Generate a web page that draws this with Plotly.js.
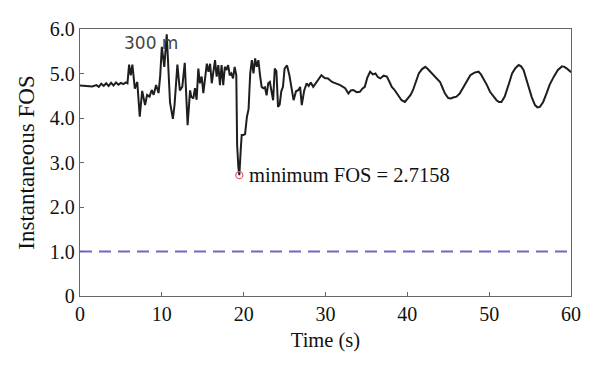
<!DOCTYPE html>
<html>
<head>
<meta charset="utf-8">
<script src="https://cdn.plot.ly/plotly-3.0.1.min.js"></script>
<style>html,body{margin:0;padding:0;background:#fff}#chart{width:600px;height:374px}</style>
</head>
<body>
<div id="chart"></div>
<script>
// Time (s)
const time = [
  0,0.5,1,1.5,2,2.3,2.6,2.9,3.2,3.5,3.8,4.1,4.4,4.7,5.0,5.3,5.6,5.8,
  6.0,6.2,6.4,6.7,7.0,7.3,7.6,7.95,8.2,8.5,8.76,9.0,9.3,9.6,9.8,10.0,10.3,10.6,
  11.0,11.35,11.55,11.9,12.2,12.5,12.8,13.15,13.45,13.6,13.85,14.05,14.25,
  14.46,14.65,14.87,15.07,15.3,15.5,15.7,15.9,16.1,16.3,16.5,16.7,16.9,17.1,17.3,17.5,17.7,17.9,18.1,18.3,18.5,18.7,18.9,19.1,
  19.2,19.35,19.47,19.64,19.76,19.97,20.17,20.4,20.6,20.8,21.0,21.2,21.4,21.6,21.8,22.0,
  22.2,22.4,22.6,22.8,23.0,23.2,23.4,23.6,23.8,24.0,24.2,24.4,24.6,24.8,25.0,25.3,25.6,25.85,
  26.1,26.4,26.7,26.9,27.1,27.4,27.7,27.95,28.2,28.5,28.8,29.1,29.5,29.9,30.3,30.8,31.3,31.8,
  32.4,32.8,33.1,33.4,33.8,34.2,34.5,34.8,35.1,35.45,35.8,36.1,36.4,36.7,37.1,37.5,37.8,
  38.1,38.4,38.7,39.0,39.3,39.7,40.1,40.4,40.7,41.0,41.4,41.8,42.2,42.5,42.8,43.2,43.6,
  44.0,44.3,44.6,45.0,45.3,45.6,46.0,46.4,46.9,47.3,47.7,48.2,48.7,49.0,49.3,49.7,
  50.1,50.5,50.9,51.2,51.5,51.9,52.2,52.5,52.8,53.2,53.6,53.9,54.2,54.5,54.8,
  55.2,55.6,55.9,56.2,56.6,57.0,57.4,57.9,58.4,58.9,59.2,59.5,59.8,60
];
// Instantaneous FOS
const fos = [
  4.73,4.72,4.71,4.71,4.74,4.70,4.77,4.72,4.78,4.72,4.79,4.73,4.80,4.75,4.79,4.76,4.80,4.78,
  5.20,4.96,5.20,4.66,4.81,4.03,4.61,4.29,4.52,4.48,4.63,4.52,4.74,4.56,4.95,5.60,5.15,5.88,
  4.35,3.98,4.29,5.20,4.62,4.70,5.24,3.84,4.62,4.48,4.44,4.67,4.41,
  5.11,4.78,4.93,4.56,4.89,5.22,5.04,5.22,4.78,5.04,5.30,4.93,5.19,4.74,5.19,4.74,5.15,5.08,5.19,4.96,5.00,4.89,5.15,4.96,
  3.40,2.90,2.7158,3.28,3.62,3.62,3.64,4.03,4.20,5.00,5.30,5.00,5.34,5.15,5.30,4.96,
  4.70,4.67,4.69,4.51,4.78,4.81,4.60,4.40,5.11,5.05,4.25,4.30,4.60,4.70,5.11,5.18,4.95,4.70,
  4.40,4.60,4.63,4.70,4.29,4.62,4.78,4.72,4.80,4.70,4.78,4.85,4.96,4.90,4.89,4.81,4.78,4.74,
  4.67,4.55,4.62,4.63,4.58,4.59,4.66,4.70,4.90,5.04,4.98,5.00,4.92,4.89,4.95,4.93,4.82,
  4.70,4.64,4.56,4.48,4.40,4.36,4.44,4.52,4.63,4.80,5.00,5.10,5.15,5.10,5.04,4.97,4.89,
  4.81,4.68,4.55,4.45,4.44,4.46,4.48,4.55,4.70,4.85,4.96,5.02,5.04,4.98,4.89,4.75,
  4.59,4.48,4.40,4.36,4.36,4.48,4.63,4.82,5.00,5.12,5.19,5.16,5.08,4.90,4.70,
  4.47,4.29,4.24,4.25,4.36,4.55,4.75,4.93,5.08,5.16,5.15,5.11,5.06,5.03
];
const minTime = 19.47;
const minFos = 2.7158;
const threshold = 1.0;
const xTicks = [0,10,20,30,40,50,60];
const yTicks = [0,1,2,3,4,5,6];
const yTickText = ["0","1.0","2.0","3.0","4.0","5.0","6.0"];

const serif = "Liberation Serif, Times New Roman, serif";

const traces = [
  {x: time, y: fos, type: "scatter", mode: "lines",
   line: {color: "#1e1e1e", width: 2}, hoverinfo: "skip"},
  {x: [0, 60], y: [threshold, threshold], type: "scatter", mode: "lines",
   line: {color: "#6a6abf", width: 1.8, dash: "12px,7px"}},
  {x: [minTime], y: [minFos], type: "scatter", mode: "markers",
   marker: {symbol: "circle-open", size: 7, color: "#e06070", line: {width: 1.3, color: "#e06070"}}}
];

const layout = {
  width: 600, height: 374,
  margin: {l: 80, r: 29, t: 29, b: 78},
  paper_bgcolor: "#fff", plot_bgcolor: "#fff",
  showlegend: false,
  font: {family: serif, color: "#111", size: 19},
  xaxis: {
    range: [0, 60], tickvals: xTicks, ticktext: xTicks.map(String),
    ticks: "inside", ticklen: 4, tickcolor: "#666",
    showline: true, mirror: true, linecolor: "#666", linewidth: 1.2,
    showgrid: false, zeroline: false,
    tickfont: {family: serif, size: 20, color: "#111"},
    title: {text: "Time (s)", font: {family: serif, size: 20.5, color: "#111"}, standoff: 8}
  },
  yaxis: {
    range: [0, 6], tickvals: yTicks, ticktext: yTickText,
    ticks: "inside", ticklen: 4, tickcolor: "#666",
    showline: true, mirror: true, linecolor: "#666", linewidth: 1.2,
    showgrid: false, zeroline: false,
    tickfont: {family: serif, size: 20, color: "#111"},
    title: {text: "Instantaneous FOS", font: {family: serif, size: 23, color: "#111"}, standoff: 8}
  },
  annotations: [
    {x: minTime, y: minFos, xref: "x", yref: "y", text: "minimum FOS = 2.7158",
     showarrow: false, xanchor: "left", yanchor: "middle", xshift: 8,
     font: {family: serif, size: 20.5, color: "#111"}},
    {x: 5.1, y: 5.68, xref: "x", yref: "y", text: "300 m",
     showarrow: false, xanchor: "left", yanchor: "middle",
     font: {family: "DejaVu Sans, sans-serif", size: 17, color: "#444"}}
  ]
};

Plotly.newPlot("chart", traces, layout, {staticPlot: true, displayModeBar: false});
</script>
</body>
</html>
